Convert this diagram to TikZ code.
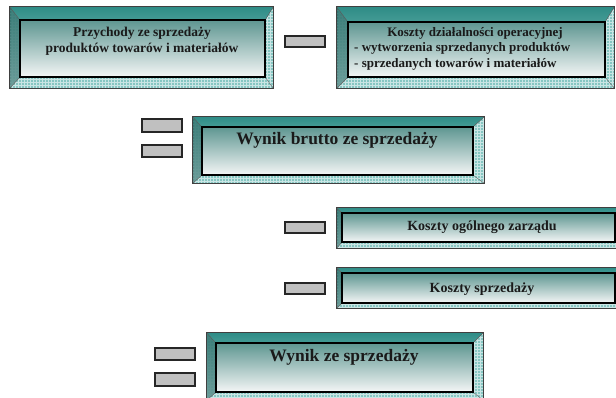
\documentclass[tikz,border=0pt]{standalone}
\usepackage{fontspec}
\setmainfont{Liberation Serif}
\usetikzlibrary{fit,patterns}
\definecolor{tealdark}{HTML}{2E8C86}
\definecolor{teallight}{HTML}{86C6C2}
\definecolor{innertop}{HTML}{5E9691}
\definecolor{innerbot}{HTML}{F4F6F6}
\definecolor{bargray}{HTML}{C0C0C0}
\definecolor{txt}{HTML}{1A1A1A}
\tikzset{
  outerbox/.style={draw=black!75, line width=0.8pt, fill=teallight, inner sep=0pt},
  checker/.style={pattern=grid, pattern color=white!55!teallight},
  topbevel/.style={top color=tealdark, bottom color=tealdark!75!teallight},
  sidebevel/.style={top color=tealdark!80!teallight, bottom color=teallight},
  innerbox/.style={draw=black, line width=1.3pt, top color=innertop, bottom color=innerbot, inner sep=0pt},
  bevelline/.style={draw=black!60, line width=0.4pt},
  minusbar/.style={draw=black!85, line width=1.2pt, fill=bargray, inner sep=0pt},
  lbl/.style={text=txt, font=\bfseries, inner sep=0pt},
}
\newcommand\panel[5]{%
  \node[outerbox, fit={#2 #3}] (#1) {};
  \fill[checker] (#1.north west) rectangle (#1.south east);
  \node[fit={#4 #5}, inner sep=0pt] (#1g) {};
  \fill[sidebevel, opacity=0.7] (#1.north west) -- (#1g.north west) -- (#1g.south west) -- (#1.south west) -- cycle;
  \fill[topbevel] (#1.north west) -- (#1.north east) -- (#1g.north east) -- (#1g.north west) -- cycle;
  \draw[bevelline] (#1.north west) -- (#1g.north west)
                   (#1.north east) -- (#1g.north east)
                   (#1.south west) -- (#1g.south west)
                   (#1.south east) -- (#1g.south east);
  \node[innerbox, fit={#4 #5}] (#1i) {};
  \draw[line width=0.8pt, draw=black!75] (#1.north west) rectangle (#1.south east);
}
\begin{document}
\begin{tikzpicture}[x=1pt,y=-1pt]
\path[use as bounding box, clip] (0,0) rectangle (616,397);
\fill[white] (0,0) rectangle (616,397);

% panels
\panel{p1}{(10,7)}{(273,88)}{(20,20)}{(265,77)}
\panel{p2}{(337,7)}{(614,88)}{(348,22)}{(605,77)}
\panel{p3}{(193,117)}{(484,183)}{(202,127)}{(473,175)}
\panel{p4}{(337,208)}{(625,248)}{(342,213)}{(615,242)}
\panel{p5}{(337,268)}{(625,308)}{(342,273)}{(615,303)}
\panel{p6}{(207,333)}{(483,400)}{(216,343)}{(473,392)}

% labels
\node[lbl, align=center, font=\bfseries\fontsize{13.5}{15.5}\selectfont] (t1) at (142,41)
  {Przychody ze sprzedaży\\produktów towarów i materiałów};
\node[lbl, font=\bfseries\fontsize{13}{15}\selectfont] (t2a) at (475,33) {Koszty działalności operacyjnej};
\node[lbl, anchor=west, font=\bfseries\fontsize{13}{15}\selectfont] (t2b) at (354,48) {- wytworzenia sprzedanych produktów};
\node[lbl, anchor=west, font=\bfseries\fontsize{13}{15}\selectfont] (t2c) at (354,64) {- sprzedanych towarów i materiałów};
\node[lbl, font=\bfseries\fontsize{17.5}{20}\selectfont] (t3) at (337,140) {Wynik brutto ze sprzedaży};
\node[lbl, font=\bfseries\fontsize{14}{16}\selectfont] (t4) at (482,227) {Koszty ogólnego zarządu};
\node[lbl, font=\bfseries\fontsize{14}{16}\selectfont] (t5) at (482,289) {Koszty sprzedaży};
\node[lbl, font=\bfseries\fontsize{17.5}{20}\selectfont] (t6) at (344,357) {Wynik ze sprzedaży};

% minus / equals bars
\node[minusbar, fit={(285,36) (325,47)}] (m1) {};
\node[minusbar, fit={(142,119) (182,132)}] (m2a) {};
\node[minusbar, fit={(142,145) (182,157)}] (m2b) {};
\node[minusbar, fit={(285,222) (325,233)}] (m3) {};
\node[minusbar, fit={(285,283) (325,294)}] (m4) {};
\node[minusbar, fit={(155,348) (195,360)}] (m5a) {};
\node[minusbar, fit={(155,373) (195,386)}] (m5b) {};
\end{tikzpicture}
\end{document}
